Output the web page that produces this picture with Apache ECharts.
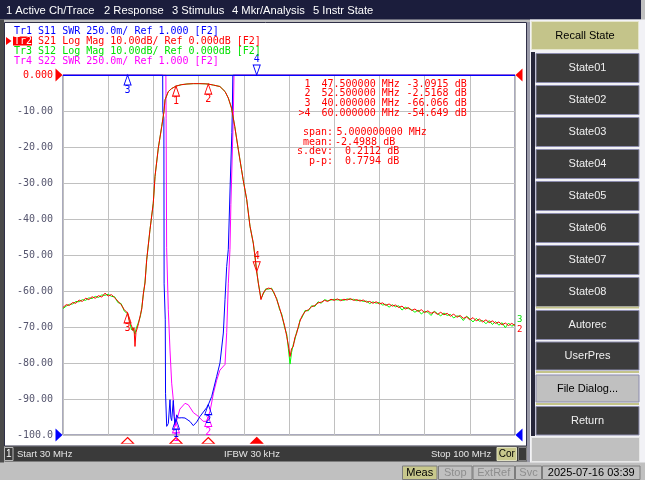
<!DOCTYPE html>
<html>
<head>
<meta charset="utf-8">
<script src="https://cdn.jsdelivr.net/npm/echarts@6/dist/echarts.min.js"></script>
<style>
html, body { margin: 0; padding: 0; background: #c0c0c0; }
#chart { width: 645px; height: 480px; }
</style>
</head>
<body>
<div id="chart"></div>
<script>
var startMHz = 30, stopMHz = 100;

// Tr2 S21 / Tr3 S12 (dB)
var freqDb = [
  30.0, 30.5, 31.0, 31.5, 32.0, 32.5, 33.0, 33.5, 34.0, 34.5,
  35.0, 35.5, 36.0, 36.5, 37.0, 37.5, 38.0, 38.5, 39.0, 39.5,
  40.0, 40.3, 40.6, 40.8, 41.0, 41.15, 41.3, 41.5, 41.7, 42.0,
  42.2, 42.45, 42.7, 42.96, 43.47, 43.98, 44.25, 44.76, 45.29, 45.64,
  45.8, 46.31, 46.8, 47.5, 48.3, 49.2, 50.2, 51.2, 52.0, 52.5,
  53.3, 54.3, 55.1, 55.6, 56.1, 56.6, 57.15, 57.9, 58.45, 58.96,
  59.47, 59.73, 60.0, 60.25, 60.66, 61.0, 61.4, 61.8, 62.3, 62.7,
  63.1, 63.5, 63.9, 64.3, 64.65, 64.9, 65.16, 65.4, 65.67, 65.9,
  66.2, 66.5, 66.7, 67.0, 67.5, 68.0, 68.5, 69.0, 69.5, 70.0,
  70.5, 71.0, 71.5, 72.0, 72.5, 73.0, 73.5, 74.0, 74.5, 75.0,
  75.5, 76.0, 76.5, 77.0, 77.5, 78.0, 78.5, 79.0, 79.5, 80.0,
  80.5, 81.0, 81.5, 82.0, 82.5, 83.0, 83.5, 84.0, 84.5, 85.0,
  85.5, 86.0, 86.5, 87.0, 87.5, 88.0, 88.5, 89.0, 89.5, 90.0,
  90.5, 91.0, 91.5, 92.0, 92.5, 93.0, 93.5, 94.0, 94.5, 95.0,
  95.5, 96.0, 96.5, 97.0, 97.5, 98.0, 98.5, 99.0, 99.5, 100.0
];
var s21Db = [
  -64.6, -63.8, -64.0, -63.2, -63.4, -62.5, -62.9, -62.0, -62.4, -61.6,
  -62.0, -61.3, -61.7, -60.6, -61.4, -61.0, -61.9, -62.8, -63.8, -65.2,
  -66.1, -68.8, -69.5, -71.0, -70.2, -75.4, -71.5, -70.3, -69.0, -66.5,
  -65.0, -60.6, -57.8, -51.3, -43.0, -35.6, -28.2, -20.3, -14.3, -10.1,
  -6.9, -4.6, -3.8, -3.09, -2.7, -2.5, -2.4, -2.4, -2.45, -2.52,
  -2.8, -3.2, -4.6, -6.4, -9.2, -14.3, -20.7, -29.1, -34.6, -42.0,
  -46.7, -50.4, -54.6, -57.8, -62.4, -60.6, -59.6, -59.2, -59.4, -60.5,
  -62.4, -64.5, -67.0, -69.5, -72.6, -75.0, -78.2, -76.0, -75.4, -73.0,
  -71.7, -69.5, -68.4, -67.0, -65.7, -65.2, -64.4, -64.0, -63.3, -63.1,
  -62.6, -62.9, -62.3, -62.6, -62.2, -62.7, -62.3, -62.5, -62.1, -62.6,
  -62.4, -62.8, -62.5, -63.1, -62.9, -63.4, -63.0, -63.6, -63.3, -64.0,
  -63.6, -64.2, -63.9, -64.6, -64.2, -65.0, -64.6, -65.4, -65.0, -65.7,
  -65.2, -66.0, -65.5, -66.2, -65.8, -66.5, -65.9, -66.6, -66.2, -67.0,
  -66.4, -67.3, -66.8, -67.6, -67.2, -68.0, -67.4, -68.3, -67.8, -68.6,
  -68.0, -68.8, -68.3, -69.0, -68.6, -69.4, -68.9, -69.6, -69.0, -69.6
];
var s12Db = [
  -64.9, -64.2, -63.7, -63.6, -62.9, -63.0, -62.4, -62.6, -61.9, -62.1,
  -61.5, -61.8, -61.1, -61.2, -60.9, -61.5, -61.6, -63.2, -63.5, -65.6,
  -66.3, -68.2, -70.8, -70.1, -71.3, -72.0, -70.6, -70.8, -68.6, -66.9,
  -64.6, -60.9, -57.5, -51.5, -43.0, -35.6, -28.2, -20.3, -14.3, -10.1,
  -6.9, -4.6, -3.8, -3.09, -2.7, -2.5, -2.4, -2.4, -2.45, -2.52,
  -2.8, -3.2, -4.6, -6.4, -9.2, -14.3, -20.7, -29.1, -34.6, -42.0,
  -46.7, -50.4, -54.6, -57.8, -62.1, -60.9, -59.4, -59.5, -59.2, -60.8,
  -62.1, -64.9, -66.6, -70.0, -72.0, -76.0, -80.3, -77.0, -74.8, -73.6,
  -71.2, -70.0, -68.0, -67.4, -65.4, -65.5, -64.1, -64.3, -63.0, -63.4,
  -62.4, -62.7, -62.5, -62.3, -62.5, -62.4, -62.6, -62.2, -62.4, -62.3,
  -62.7, -62.5, -62.9, -62.8, -63.5, -63.0, -63.4, -63.2, -63.9, -63.7,
  -64.5, -63.8, -64.4, -64.1, -65.3, -64.5, -64.9, -65.2, -65.9, -65.3,
  -66.4, -65.6, -65.9, -66.8, -65.6, -66.3, -66.9, -66.1, -66.8, -66.5,
  -67.5, -66.9, -67.1, -68.2, -67.0, -67.7, -68.6, -67.6, -68.4, -68.2,
  -69.1, -68.2, -69.3, -68.5, -69.5, -68.8, -70.2, -68.9, -69.8, -69.2
];

// Tr1 S11 (SWR, clipped at 3.5 on screen)
var freqS11 = [30, 45.44, 45.46, 45.62, 45.66, 45.84, 45.88, 46.06, 46.31, 46.57,
  46.7, 46.83, 47.08, 47.2, 47.35, 47.61, 47.86, 48.4, 48.89, 49.67,
  50.18, 50.7, 51.22, 52.25, 52.6, 53.03, 53.8, 54.31, 54.83, 55.09,
  55.35, 55.6, 55.9, 56.15, 56.22, 56.3, 100];
var s11Swr = [3.5, 3.5, 3.25, 3.2, 2.05, 1.8, 1.29, 1.06, 1.08, 1.245,
  1.12, 1.10, 1.24, 1.13, 1.07, 1.14, 1.118, 1.12, 1.118, 1.094,
  1.065, 1.09, 1.129, 1.19, 1.22, 1.268, 1.407, 1.5, 1.708, 1.94,
  2.17, 2.29, 2.75, 3.1, 3.25, 3.5, 3.5];

// Tr4 S22 (SWR)
var freqS22 = [30, 45.93, 45.97, 46.05, 46.31, 46.57, 46.83, 47.08, 47.35, 47.6,
  48.1, 48.9, 49.4, 50.2, 50.95, 51.7, 52.25, 52.77, 53.3, 53.8,
  54.3, 55.09, 55.35, 55.6, 55.86, 56.0, 56.37, 56.48, 100];
var s22Swr = [3.5, 3.5, 3.2, 2.3, 1.87, 1.59, 1.36, 1.245, 1.06, 1.10,
  1.18, 1.22, 1.21, 1.155, 1.13, 1.095, 1.095, 1.165, 1.29, 1.38,
  1.45, 1.49, 1.71, 2.05, 2.29, 2.6, 3.2, 3.5, 3.5];

// markers
var markerNames = ['1', '2', '3', '>4'];
var markerFreq = [47.5, 52.5, 40.0, 60.0];
var markerS21 = [-3.0915, -2.5168, -66.066, -54.649];
var statLabels = ['span:', 'mean:', 's.dev:', 'p-p:'];
var statValues = ['5.000000000 MHz', '-2.4988 dB', '0.2112 dB', '0.7794 dB'];

var traceHeader = [
  'Tr1 S11 SWR 250.0m/ Ref 1.000 [F2]',
  'Tr2 S21 Log Mag 10.00dB/ Ref 0.000dB [F2]',
  'Tr3 S12 Log Mag 10.00dB/ Ref 0.000dB [F2]',
  'Tr4 S22 SWR 250.0m/ Ref 1.000 [F2]'
];
var traceColors = ['#0000ff', '#ff0000', '#00e000', '#ff00ff'];
var menuItems = ['1 Active Ch/Trace', '2 Response', '3 Stimulus', '4 Mkr/Analysis', '5 Instr State'];
var softKeys = ['State01', 'State02', 'State03', 'State04', 'State05', 'State06', 'State07', 'State08'];

var MONO = '"DejaVu Sans Mono", monospace';
var SANS = '"Liberation Sans", Arial, sans-serif';
var TRI_DOWN = 'path://M0,0 L10,0 L5,10 Z';
var TRI_RIGHT = 'path://M0,0 L10,5 L0,10 Z';
var TRI_LEFT = 'path://M10,0 L0,5 L10,10 Z';

function pairs(fs, vs) {
  return fs.map(function (f, i) { return [f - startMHz, vs[i]]; });
}
function valueAt(fs, vs, f) {
  for (var i = 1; i < fs.length; i++) {
    if (f <= fs[i]) {
      var t = (f - fs[i - 1]) / (fs[i] - fs[i - 1]);
      return vs[i - 1] + t * (vs[i] - vs[i - 1]);
    }
  }
  return vs[vs.length - 1];
}
function mk(f, v, name, color, down) {
  return {
    coord: [f - startMHz, v],
    symbol: down ? TRI_DOWN : 'triangle',
    symbolSize: [7, 10],
    symbolOffset: [0, down ? '-50%' : '50%'],
    itemStyle: { color: 'rgba(0,0,0,0)', borderColor: color, borderWidth: 1 },
    label: { show: true, formatter: name, position: down ? 'top' : 'bottom', distance: 0,
             color: color, fontSize: 10, fontFamily: MONO }
  };
}
function refTri(x, v, color, left) {
  return {
    coord: [x - startMHz, v], symbol: left ? TRI_LEFT : TRI_RIGHT,
    symbolSize: [7, 13], symbolOffset: [left ? 4 : -4, 0],
    itemStyle: { color: color }, label: { show: false }
  };
}
function stimTri(f, active) {
  return {
    coord: [f - startMHz, -100], symbol: 'triangle', symbolSize: [12, 6], symbolOffset: [0, 5.5],
    itemStyle: { color: active ? '#ff0000' : 'rgba(0,0,0,0)', borderColor: '#ff0000', borderWidth: 1 },
    label: { show: false }
  };
}

function rect(x, y, w, h, fill, stroke, z) {
  return { type: 'rect', z: z == null ? -10 : z, shape: { x: x, y: y, width: w, height: h },
           style: { fill: fill, stroke: stroke || null, lineWidth: 1 } };
}
function txt(x, y, s, color, size, font, align, z) {
  return { type: 'text', z: z == null ? 10 : z, x: x, y: y,
           style: { text: s, fill: color, font: size + 'px ' + font,
                    textAlign: align || 'left', textVerticalAlign: 'middle',
                    align: align || 'left', verticalAlign: 'middle' } };
}

var el = [];
// frame
el.push(rect(0, 0, 641, 19.5, '#1b1d3c'));
el.push(rect(0, 19.5, 4, 443, '#4a4a4a'));
el.push(rect(4.5, 22.5, 522, 423.5, '#ffffff', '#303048'));
el.push(rect(527, 22, 3, 440, '#9a9aa8'));
el.push(rect(530, 19.5, 115, 443, '#f2f2f6'));
var menuX = [6, 104, 172, 232, 313];
menuItems.forEach(function (m, i) { el.push(txt(menuX[i], 10.5, m, '#ffffff', 11.2, SANS)); });

// trace header
traceHeader.forEach(function (t, i) { el.push(txt(14, 31 + i * 10, t, traceColors[i], 10, MONO)); });
el.push(rect(13, 36.5, 19, 9, '#ff0000', null, 11));
el.push(txt(14, 41, 'Tr2', '#ffffff', 10, MONO, 'left', 12));
el.push({ type: 'polygon', z: 10, shape: { points: [[6, 37], [11.5, 41], [6, 45]] }, style: { fill: '#ff0000' } });

// marker table
markerNames.forEach(function (n, i) {
  var y = 84 + i * 9.7;
  el.push(txt(310.5, y, n, '#ff0000', 10, MONO, 'right'));
  el.push(txt(321.5, y, markerFreq[i].toFixed(6) + ' MHz', '#ff0000', 10, MONO));
  el.push(txt(406.5, y, markerS21[i].toPrecision(5) + ' dB', '#ff0000', 10, MONO));
});
var statX = [336.5, 335, 345, 345];
statLabels.forEach(function (s, i) {
  var y = 132.7 + i * 9.55;
  el.push(txt(333, y, s, '#ff0000', 10, MONO, 'right'));
  el.push(txt(statX[i], y, statValues[i], '#ff0000', 10, MONO));
});

// channel status bar
el.push(rect(4.5, 446.5, 522.5, 15, '#3a3a3a', null, -9));
el.push(rect(4.5, 447.5, 8.5, 13, '#3a3a3a', '#b8b8b8', -8));
el.push(txt(8.8, 454.3, '1', '#ffffff', 10, SANS, 'center'));
el.push(txt(17, 454.3, 'Start 30 MHz', '#e6e6e6', 9.5, SANS));
el.push(txt(224, 454.3, 'IFBW 30 kHz', '#e6e6e6', 9.5, SANS));
el.push(txt(431, 454.3, 'Stop 100 MHz', '#e6e6e6', 9.5, SANS));
el.push(rect(497, 447.5, 19.5, 13, '#c8c88c', '#e0e0c0', -8));
el.push(txt(506.8, 454.3, 'Cor', '#000000', 10, SANS, 'center'));
el.push(rect(518.5, 447.5, 8, 13, '#3a3a3a', '#808080', -8));

// bottom status line
var statusBoxes = [
  { x: 402.5, w: 34.5, t: 'Meas', fill: '#c8c88c', c: '#000000' },
  { x: 438.5, w: 33.5, t: 'Stop', fill: '#c0c0c0', c: '#8e8e8e' },
  { x: 473, w: 41.5, t: 'ExtRef', fill: '#c0c0c0', c: '#8e8e8e' },
  { x: 515.5, w: 26, t: 'Svc', fill: '#c0c0c0', c: '#8e8e8e' },
  { x: 542.5, w: 97.5, t: '2025-07-16 03:39', fill: '#c0c0c0', c: '#000000' }
];
statusBoxes.forEach(function (b) {
  el.push(rect(b.x, 466, b.w, 13.5, b.fill, '#7c7c7c', -8));
  el.push(txt(b.x + b.w / 2, 473, b.t, b.c, 11, SANS, 'center'));
});

// soft keys
el.push(rect(531.5, 21.5, 107, 28, '#c4c48a', '#e6e6cc', -8));
el.push(txt(585, 36, 'Recall State', '#000000', 11, SANS, 'center'));
el.push(rect(531, 52, 4, 384, '#26263a', null, -8));
function softKey(y, h, label, fill, color) {
  el.push(rect(536, y, 103, h, fill, '#8c8cae', -8));
  el.push(txt(587.5, y + h / 2, label, color, 11, SANS, 'center'));
}
softKeys.forEach(function (s, i) { softKey(53.5 + i * 32, 29, s, '#3c3c3c', '#f0f0f0'); });
el.push(rect(536, 306.5, 103, 2, '#c4c48a', null, -8));
softKey(310.5, 29, 'Autorec', '#3c3c3c', '#f0f0f0');
softKey(342, 28, 'UserPres', '#3c3c3c', '#f0f0f0');
el.push(rect(536, 371, 103, 2, '#c4c48a', null, -8));
softKey(375, 27, 'File Dialog...', '#c0c0c0', '#000000');
el.push(rect(536, 403, 103, 2, '#c4c48a', null, -8));
softKey(406.5, 28.5, 'Return', '#3c3c3c', '#f0f0f0');
el.push(rect(531.5, 437.5, 108, 24, '#c0c0c0', '#e8e8e8', -8));

var myChart = echarts.init(document.getElementById('chart'));

option = {
  backgroundColor: '#c0c0c0',
  animation: false,
  graphic: { elements: el },
  grid: { left: 63, top: 75, width: 452, height: 360, show: true,
          borderColor: '#55557a', borderWidth: 1, backgroundColor: 'rgba(0,0,0,0)' },
  xAxis: {
    type: 'value', min: 0, max: stopMHz - startMHz, interval: 7,
    axisLabel: { show: false }, axisTick: { show: false }, axisLine: { show: false },
    splitLine: { lineStyle: { color: '#c0c0c0', width: 1 } }
  },
  yAxis: [
    {
      type: 'value', min: -100, max: 0, interval: 10,
      axisLine: { show: false }, axisTick: { show: false },
      splitLine: { lineStyle: { color: '#c0c0c0', width: 1 } },
      axisLabel: {
        margin: 10, color: '#55556e', fontFamily: MONO, fontSize: 10,
        showMinLabel: true, showMaxLabel: true,
        formatter: function (v) {
          if (v === 0) return '{ref|0.000}';
          if (v === -100) return '-100.0';
          return v.toFixed(2);
        },
        rich: { ref: { color: '#ff0000', fontFamily: MONO, fontSize: 10 } }
      }
    },
    { type: 'value', min: 1, max: 3.5, show: false }
  ],
  series: [
    {
      name: 'S22', type: 'line', yAxisIndex: 1, data: pairs(freqS22, s22Swr),
      symbol: 'none', lineStyle: { color: '#ff00ff', width: 1 },
      markPoint: { data: [
        mk(markerFreq[0], valueAt(freqS22, s22Swr, markerFreq[0]), '1', '#ff00ff'),
        mk(markerFreq[1], valueAt(freqS22, s22Swr, markerFreq[1]), '2', '#ff00ff')
      ] }
    },
    {
      name: 'S11', type: 'line', yAxisIndex: 1, data: pairs(freqS11, s11Swr),
      symbol: 'none', lineStyle: { color: '#0000ff', width: 1 },
      markLine: { silent: true, symbol: 'none', label: { show: false },
                  lineStyle: { color: '#0000ff', width: 1, type: 'solid' }, data: [{ yAxis: 3.5 }] },
      markPoint: { data: [
        mk(markerFreq[0], valueAt(freqS11, s11Swr, markerFreq[0]), '1', '#0000ff'),
        mk(markerFreq[1], valueAt(freqS11, s11Swr, markerFreq[1]), '2', '#0000ff'),
        mk(markerFreq[2], valueAt(freqS11, s11Swr, markerFreq[2]), '3', '#0000ff'),
        mk(markerFreq[3], valueAt(freqS11, s11Swr, markerFreq[3]), '4', '#0000ff', true),
        refTri(startMHz, 1, '#0000ff', false),
        refTri(stopMHz, 1, '#0000ff', true)
      ] }
    },
    {
      name: 'S12', type: 'line', data: pairs(freqDb, s12Db),
      symbol: 'none', lineStyle: { color: '#00ff00', width: 1 },
      endLabel: { show: true, formatter: '3', color: '#00e000', fontFamily: MONO, fontSize: 9,
                  distance: 2, offset: [0, -4] }
    },
    {
      name: 'S21', type: 'line', data: pairs(freqDb, s21Db),
      symbol: 'none', lineStyle: { color: '#ff0000', width: 1 },
      endLabel: { show: true, formatter: '2', color: '#ff0000', fontFamily: MONO, fontSize: 9,
                  distance: 2, offset: [0, 4] },
      markPoint: { data: [
        mk(markerFreq[0], markerS21[0], '1', '#ff0000'),
        mk(markerFreq[1], markerS21[1], '2', '#ff0000'),
        mk(markerFreq[2], markerS21[2], '3', '#ff0000'),
        mk(markerFreq[3], markerS21[3], '4', '#ff0000', true),
        stimTri(markerFreq[0]), stimTri(markerFreq[1]), stimTri(markerFreq[2]), stimTri(markerFreq[3], true),
        refTri(startMHz, 0, '#ff0000', false),
        refTri(stopMHz, 0, '#ff0000', true)
      ] }
    }
  ]
};

myChart.setOption(option);
</script>
</body>
</html>
